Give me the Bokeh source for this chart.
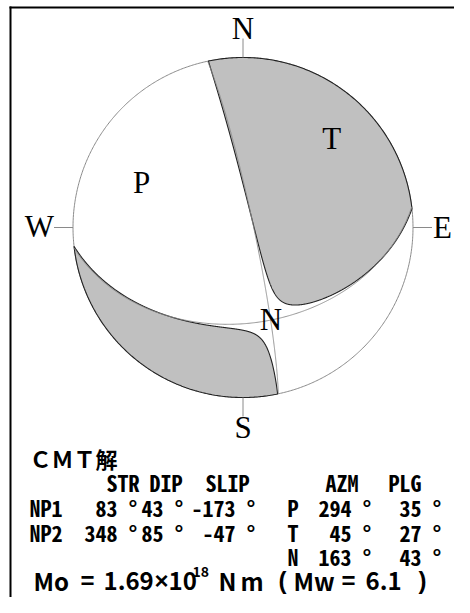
import numpy as np
from bokeh.plotting import figure
from bokeh.models import Range1d
from bokeh.embed import file_html
from bokeh.resources import INLINE
from bokeh.core.properties import value

# ---------------- data ----------------
plane_names = ["NP1", "NP2"]
plane_strike = [83, 348]
plane_dip = [43, 85]
plane_slip = [-173, -47]
axis_names = ["P", "T", "N"]
axis_azm = [294, 45, 163]
axis_plg = [35, 27, 43]
nondc_ratio = 0.03          # -lambda_N / lambda_T
mo_mantissa = "1.69"
mo_exponent = "18"
mw_value = "6.1"
compass_names = ["N", "E", "S", "W"]
compass_az = [0, 90, 180, 270]

# ---------------- layout ----------------
W, H = 454, 597
CX, CY, R = 242.5, 227.0, 170.0
SERIF = value("Liberation Serif")
MONO = value("Noto Sans Mono CJK JP")
SANS = value("Noto Sans CJK JP")


def vec(az, pl):
    a, p_ = np.radians(az), np.radians(pl)
    return np.array([np.cos(p_) * np.cos(a), np.cos(p_) * np.sin(a), np.sin(p_)])


def proj(u):
    u = np.asarray(u, dtype=float)
    s = R / np.sqrt(1.0 + u[2])
    return CX + u[1] * s, CY - u[0] * s


def horizon(a1, a2):
    m = max(2, int(abs(a2 - a1) / np.radians(0.5)))
    a = np.linspace(a1, a2, m)
    return CX + R * np.sin(a), CY - R * np.cos(a)


def lobe(axis, b1, b2):
    lamT, lamN = 1.0, -nondc_ratio
    lamP = -(lamT + lamN)
    psi = np.linspace(0, 2 * np.pi, 2881)[:-1]
    den = -(lamN * np.cos(psi) ** 2 + lamP * np.sin(psi) ** 2)
    th = np.arctan(np.sqrt(lamT / den))
    u = (np.outer(axis, np.cos(th))
         + (np.outer(b1, np.cos(psi)) + np.outer(b2, np.sin(psi))) * np.sin(th))
    d = u[2]
    low = d >= 0
    M = len(d)
    if low.all():
        return proj(u)
    start = np.where(low & ~np.roll(low, 1))[0][0]
    ax_az = np.arctan2(axis[1], axis[0])
    xs, ys = [], []
    exit_az = None
    for k in range(M):
        i = (start + k) % M
        j = (i + 1) % M
        if low[i]:
            x, y = proj(u[:, i])
            xs.append(float(x)); ys.append(float(y))
        if low[i] != low[j]:
            f = d[i] / (d[i] - d[j])
            c = u[:, i] + f * (u[:, j] - u[:, i])
            az = np.arctan2(c[1], c[0])
            if low[i]:
                exit_az = az
            else:
                delta = (az - exit_az) % (2 * np.pi)
                if (ax_az - exit_az) % (2 * np.pi) < delta:
                    hx, hy = horizon(exit_az, exit_az + delta)
                else:
                    hx, hy = horizon(exit_az, exit_az - (2 * np.pi - delta))
                xs.extend(hx.tolist()); ys.extend(hy.tolist())
    return np.array(xs), np.array(ys)


def plane_curve(strike, dip):
    al = np.linspace(0, np.pi, 361)
    st, dp = np.radians(strike), np.radians(dip)
    s = np.array([np.cos(st), np.sin(st), 0.0])
    dd = np.array([np.cos(dp) * np.cos(st + np.pi / 2),
                   np.cos(dp) * np.sin(st + np.pi / 2), np.sin(dp)])
    u = np.outer(s, np.cos(al)) + np.outer(dd, np.sin(al))
    return proj(u)


# principal axes (orthogonalised)
t_ax = vec(axis_azm[1], axis_plg[1])
p_ax = vec(axis_azm[0], axis_plg[0])
p_ax = p_ax - p_ax.dot(t_ax) * t_ax
p_ax /= np.linalg.norm(p_ax)
n_ax = np.cross(t_ax, p_ax)

p = figure(width=W, height=H, x_range=Range1d(0, W), y_range=Range1d(H, 0),
           output_backend="svg", toolbar_location=None, min_border=0,
           x_axis_location=None, y_axis_location=None)
p.grid.visible = False
p.outline_line_color = None
p.background_fill_color = "white"
p.border_fill_color = "white"

# frame lines (left, top)
p.line([10, 10], [6, H], line_color="black", line_width=2)
p.line([9, W], [7, 7], line_color="black", line_width=2)

# sphere
hx, hy = horizon(0, 2 * np.pi)
p.patch(hx, hy, fill_color="white", line_color="#8a8a8a", line_width=1)

# compressional lobes
l1 = lobe(t_ax, n_ax, p_ax)
l2 = lobe(-t_ax, n_ax, p_ax)
p.patches([l1[0].tolist(), l2[0].tolist()], [l1[1].tolist(), l2[1].tolist()],
          fill_color="#c0c0c0", line_color="#222222", line_width=1.1)

# nodal planes
for s_, d_ in zip(plane_strike, plane_dip):
    x, y = plane_curve(s_, d_)
    p.line(x, y, line_color="#8a8a8a", line_width=0.9)

# compass ticks and labels
for name, az in zip(compass_names, compass_az):
    a = np.radians(az)
    p.line([CX + R * np.sin(a), CX + (R + 19) * np.sin(a)],
           [CY - R * np.cos(a), CY - (R + 19) * np.cos(a)],
           line_color="#8a8a8a", line_width=1)
lab_x = {"N": CX, "S": CX, "E": CX + R + 20, "W": CX - R - 19}
lab_y = {"N": CY - R - 29, "S": CY + R + 30, "E": CY + 0, "W": CY - 1}
lab_al = {"N": "center", "S": "center", "E": "left", "W": "right"}
for name in compass_names:
    p.text([lab_x[name]], [lab_y[name]], text=[name], text_font=SERIF,
           text_font_size="31px", text_align=lab_al[name], text_baseline="middle",
           text_color="black")

# axis labels
ax_u = np.array([vec(a, b) for a, b in zip(axis_azm, axis_plg)]).T
axx, axy = proj(ax_u)
p.text(axx.tolist(), (axy + 0).tolist(), text=axis_names, text_font=SERIF,
       text_font_size="31px", text_align="center", text_baseline="middle",
       text_color="black")

# ---------------- text block ----------------
p.text([29], [457], text=["ＣＭＴ解"], text_font=SANS, text_font_size="22px",
       text_font_style="bold", text_baseline="middle", text_color="black")

hdr_y = 481
row_y = [506, 531, 555]
head_txt = ["STR", "DIP", "SLIP", "AZM", "PLG"]
head_x = [106, 149, 205, 325, 388]
p.text(head_x, [hdr_y] * 5, text=head_txt, text_font=MONO, text_font_size="22px",
       text_font_style="bold", text_baseline="middle", text_color="black")

p.text([29, 29], row_y[:2], text=plane_names, text_font=MONO, text_font_size="22px",
       text_font_style="bold", text_baseline="middle", text_color="black")
col_r = [137, 183, 255]
for k, vals in enumerate([plane_strike, plane_dip, plane_slip]):
    p.text([col_r[k]] * 2, row_y[:2], text=[f"{v} °" for v in vals], text_font=MONO,
           text_font_size="22px", text_font_style="bold", text_align="right",
           text_baseline="middle", text_color="black")

p.text([287] * 3, row_y, text=axis_names, text_font=MONO, text_font_size="22px",
       text_font_style="bold", text_baseline="middle", text_color="black")
p.text([371] * 3, row_y, text=[f"{v} °" for v in axis_azm], text_font=MONO,
       text_font_size="22px", text_font_style="bold", text_align="right",
       text_baseline="middle", text_color="black")
p.text([441] * 3, row_y, text=[f"{v} °" for v in axis_plg], text_font=MONO,
       text_font_size="22px", text_font_style="bold", text_align="right",
       text_baseline="middle", text_color="black")

# Mo line
mo_mid = 580
mo_left = ["Mo", mo_mantissa, "10", "N", "m", "Mw", mw_value]
mo_left_x = [33, 103, 168, 218, 240, 293, 365]
p.text(mo_left_x, [mo_mid] * len(mo_left), text=mo_left, text_font=SANS,
       text_font_size="24px", text_font_style="bold", text_baseline="middle",
       text_color="black")
mo_sym = ["=", "×", "(", "=", ")"]
mo_sym_x = [87, 161, 282, 348, 422]
p.text(mo_sym_x, [mo_mid] * len(mo_sym), text=mo_sym, text_font=value("Liberation Sans"),
       text_font_size="24px", text_font_style="bold", text_align="center",
       text_baseline="middle", text_color="black")
p.text([192], [mo_mid - 9], text=[mo_exponent], text_font=SANS, text_font_size="14px",
       text_font_style="bold", text_baseline="middle", text_color="black")

open("out.html", "w").write(file_html(p, INLINE))
